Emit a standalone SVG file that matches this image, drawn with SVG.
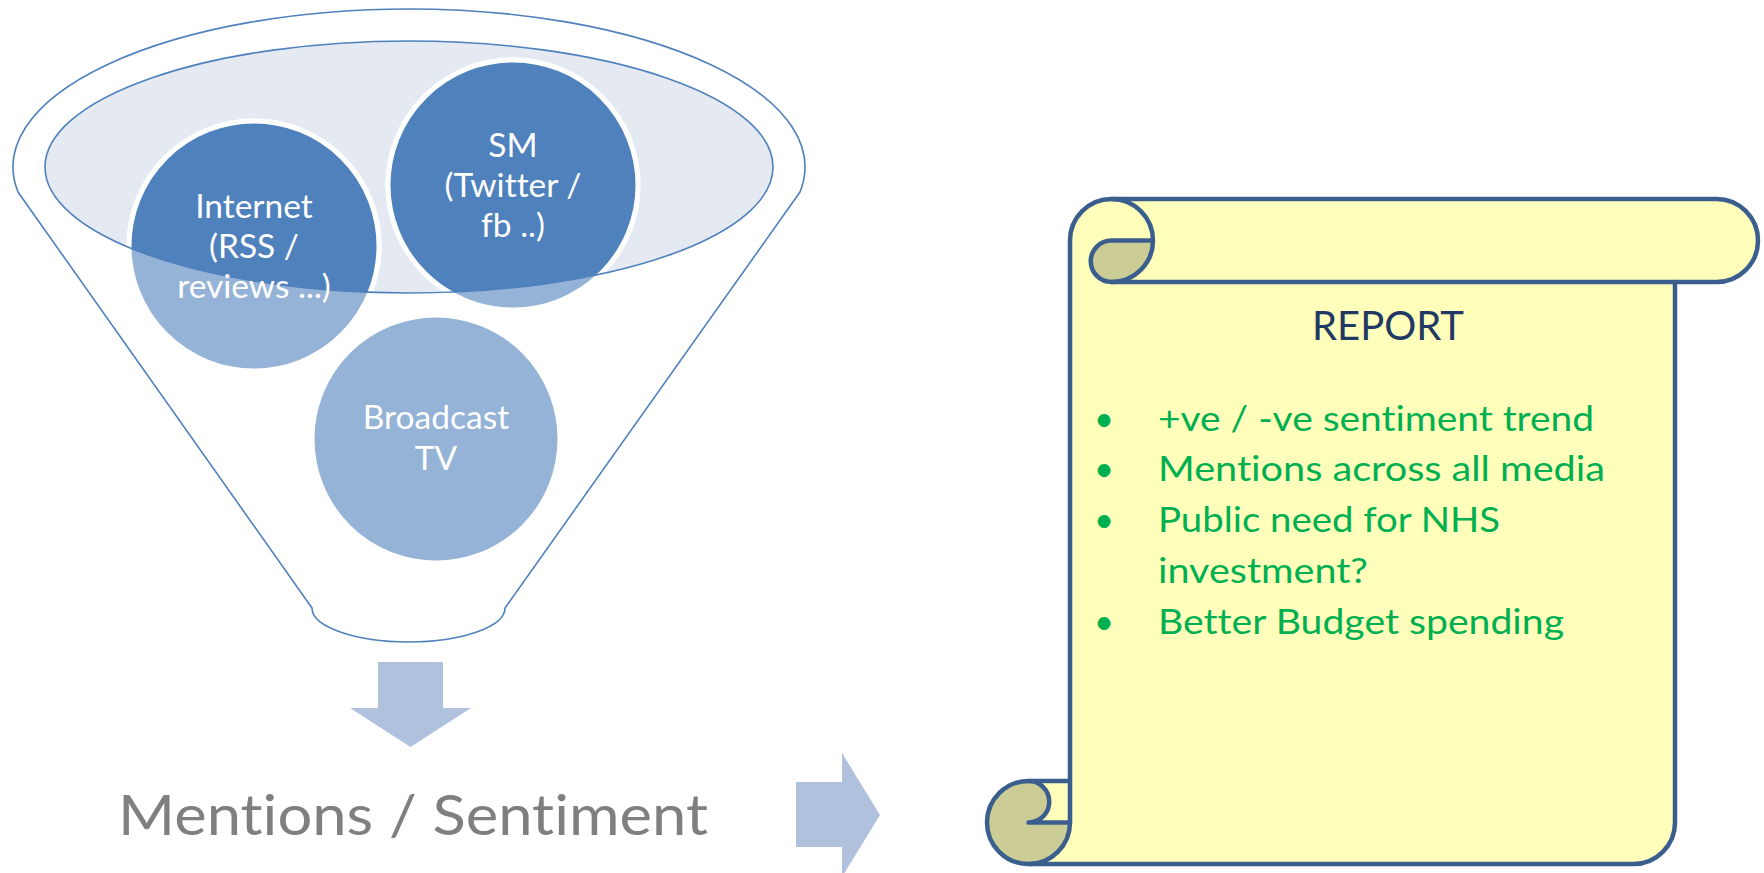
<svg xmlns="http://www.w3.org/2000/svg" width="1764" height="873" viewBox="0 0 1764 873">
<style>
text{font-variant-ligatures:none}
.outline{fill:none;stroke:#4F81BD;stroke-width:1.6}
.light{fill:#95B3D7;stroke:#FFFFFF;stroke-width:5}
.dark{fill:#4F81BD;stroke:#FFFFFF;stroke-width:5}
.ctext{font-family:Lato,"Liberation Sans",sans-serif;font-size:33.5px;fill:#FFFFFF;text-anchor:middle}
.arrow{fill:#B0C1DD}
.scroll{fill:#FFFFBB;stroke:none}
.curl{fill:#CCCC96;stroke:none}
.sline{fill:none;stroke:#3A5F8E;stroke-width:4.5;stroke-linejoin:round;stroke-linecap:round}
.btext{font-family:Lato,"Liberation Sans",sans-serif;font-size:34.5px;fill:#00B050}
</style>
<defs>
<clipPath id="inner"><ellipse cx="409" cy="167" rx="364" ry="126"/></clipPath>
</defs>
<rect width="1764" height="873" fill="#FFFFFF"/>
<g id="funnel">
<path class="outline" d="M18,192 A396,158 0 1 1 800,192 L505,608 A96.5,34 0 0 1 312,608 Z"/>
<ellipse cx="409" cy="167" rx="364" ry="126" fill="#E4E9F2"/>
</g>
<g id="internet">
<circle class="light" cx="254" cy="246" r="125"/>
<circle class="dark" cx="254" cy="246" r="125" clip-path="url(#inner)"/>
</g>
<g id="sm">
<circle class="light" cx="513" cy="185" r="125"/>
<circle class="dark" cx="513" cy="185" r="125" clip-path="url(#inner)"/>
</g>
<g id="broadcast">
<circle class="light" cx="436" cy="439" r="124"/>
</g>
<ellipse class="outline" cx="409" cy="167" rx="364" ry="126"/>
<g id="labels">
<text class="ctext" x="254" y="218">Internet</text>
<text class="ctext" x="254" y="258">(RSS /</text>
<text class="ctext" x="254" y="298">reviews ...)</text>
<text class="ctext" x="513" y="157">SM</text>
<text class="ctext" x="513" y="197">(Twitter /</text>
<text class="ctext" x="513" y="237">fb ..)</text>
<text class="ctext" x="436" y="429">Broadcast</text>
<text class="ctext" x="436" y="470">TV</text>
</g>
<g id="connectors">
<polygon class="arrow" points="378,662 443,662 443,708 471,708 410.5,747 350,708 378,708"/>
<polygon class="arrow" points="796,782 842,782 842,753 880,815 842,877 842,847 796,847"/>
</g>
<g id="result">
<text x="118" y="835" textLength="590" lengthAdjust="spacingAndGlyphs" style="font-family:Lato,'Liberation Sans',sans-serif;font-size:57px;fill:#7F7F7F">Mentions / Sentiment</text>
</g>
<g id="report">
<path class="scroll" d="M1028.5,864 A41.5,41.5 0 0 0 1070,822.5 L1070,240.5 A41.5,41.5 0 0 1 1111.5,199 L1716.5,199 A41.5,41.5 0 0 1 1716.5,282 L1675,282 L1675,822.5 A41.5,41.5 0 0 1 1633.5,864 Z"/>
<path class="scroll" d="M1070,781 L1028.5,781 A20.75,20.75 0 0 1 1028.5,822.5 L1070,822.5 Z"/>
<path class="curl" d="M1153,240.5 A41.5,41.5 0 0 1 1111.5,282 A20.75,20.75 0 0 1 1111.5,240.5 Z"/>
<path class="curl" d="M1070,822.5 A41.5,41.5 0 1 1 1028.5,781 A20.75,20.75 0 0 1 1028.5,822.5 Z"/>
<path class="sline" d="M1070,781 L1070,240.5 A41.5,41.5 0 0 1 1111.5,199 L1716.5,199 A41.5,41.5 0 0 1 1716.5,282 L1675,282 L1675,822.5 A41.5,41.5 0 0 1 1633.5,864 L1028.5,864 A41.5,41.5 0 0 1 1028.5,781 Z"/>
<path class="sline" d="M1111.5,199 A41.5,41.5 0 0 1 1111.5,282 A20.75,20.75 0 0 1 1111.5,240.5 L1153,240.5"/>
<path class="sline" d="M1675,282 L1111.5,282"/>
<path class="sline" d="M1028.5,781 A20.75,20.75 0 0 1 1028.5,822.5 L1070,822.5"/>
<path class="sline" d="M1028.5,864 A41.5,41.5 0 0 0 1070,822.5 L1070,781"/>
<text x="1388" y="340" text-anchor="middle" style="font-family:Lato,'Liberation Sans',sans-serif;font-size:40px;fill:#1F3864">REPORT</text>
<g class="btext">
<text x="1104" y="431" text-anchor="middle">•</text>
<text x="1104" y="481" text-anchor="middle">•</text>
<text x="1104" y="532" text-anchor="middle">•</text>
<text x="1104" y="634" text-anchor="middle">•</text>
<text x="1158" y="431" textLength="436" lengthAdjust="spacingAndGlyphs">+ve / -ve sentiment trend</text>
<text x="1158" y="481" textLength="447" lengthAdjust="spacingAndGlyphs">Mentions across all media</text>
<text x="1158" y="532" textLength="342" lengthAdjust="spacingAndGlyphs">Public need for NHS</text>
<text x="1158" y="583" textLength="210" lengthAdjust="spacingAndGlyphs">investment?</text>
<text x="1158" y="634" textLength="406" lengthAdjust="spacingAndGlyphs">Better Budget spending</text>
</g>
</g>
</svg>
